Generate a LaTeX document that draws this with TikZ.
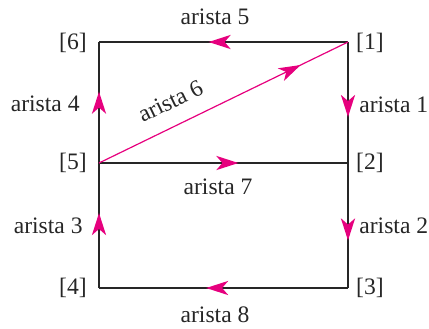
\documentclass[tikz,border=0pt]{standalone}
\usepackage{fontspec}
\setmainfont{Liberation Serif}
\usetikzlibrary{arrows.meta, decorations.markings}
\definecolor{flecha}{RGB}{230,0,126}

\begin{document}
\begin{tikzpicture}[
			x=0.5pt, y=-0.5pt,
			font=\fontsize{11.8}{13}\selectfont,
			edge/.style={line width=1.4pt, black!85},
			diag/.style={line width=0.6pt, flecha},
			mid/.style={postaction=decorate, decoration={markings,
				mark=at position #1 with {\arrow[flecha]{Stealth[length=11pt, width=7pt, inset=3pt]}}}},
			lbl/.style={inner sep=0pt, text=black!85}
			]
			\useasboundingbox (0,0) rectangle (429,328);
			
			% ---------------- VERTICES ----------------
			\coordinate (v1) at (348,42);
			\coordinate (v2) at (348,163);
			\coordinate (v3) at (348,288);
			\coordinate (v4) at (99,288);
			\coordinate (v5) at (99,163);
			\coordinate (v6) at (99,42);
			
			\node[lbl] (l1) at (370,43) {[1]};
			\node[lbl] (l2) at (370,163) {[2]};
			\node[lbl] (l3) at (370,288) {[3]};
			\node[lbl] (l4) at (73,288) {[4]};
			\node[lbl] (l5) at (73,163) {[5]};
			\node[lbl] (l6) at (73,43) {[6]};
			
			% ---------------- EDGES ----------------
			\draw[edge, mid=0.62] (v1) -- node[lbl, right=5pt, pos=0.52] {arista 1} (v2);
			\draw[edge, mid=0.62] (v2) -- node[lbl, right=5pt, pos=0.5] {arista 2} (v3);
			\draw[edge, mid=0.57] (v3) -- node[lbl, below=8.5pt, pos=0.534] {arista 8} (v4);
			\draw[edge, mid=0.6] (v4) -- node[lbl, left=7.5pt, pos=0.5] {arista 3} (v5);
			\draw[edge, mid=0.59] (v5) -- node[lbl, left=9pt, pos=0.49] {arista 4} (v6);
			\draw[edge, mid=0.56] (v1) -- node[lbl, above=8pt, pos=0.534] {arista 5} (v6);
			\draw[edge, mid=0.56] (v5) -- node[lbl, below=7pt, pos=0.478] {arista 7} (v2);
			\draw[diag, mid=0.81] (v5) -- node[lbl, sloped, above=8pt, pos=0.33] {arista 6} (v1);
			
		\end{tikzpicture}
\end{document}
